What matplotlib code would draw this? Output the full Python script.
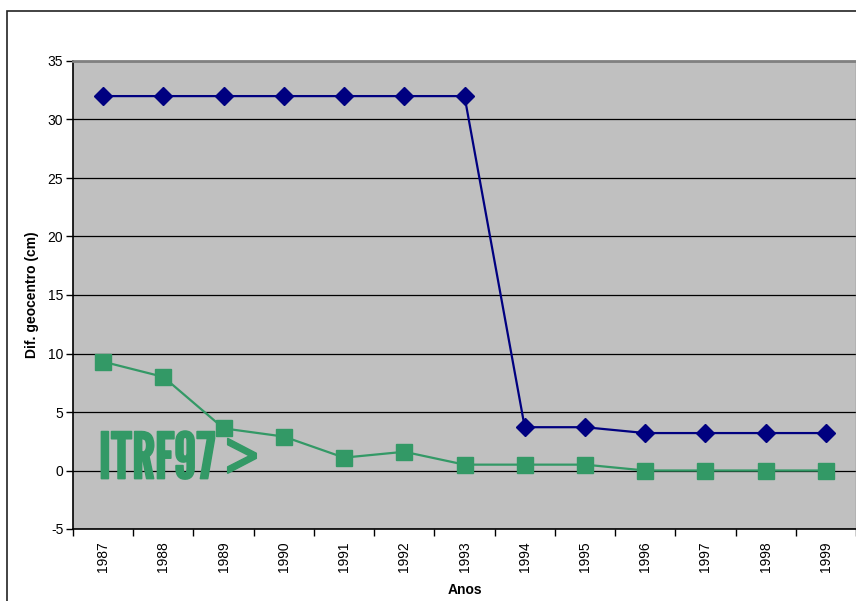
import numpy as np
import matplotlib.pyplot as plt
import matplotlib.patheffects as pe
from matplotlib.patches import Rectangle

anos = ['1987', '1988', '1989', '1990', '1991', '1992', '1993',
        '1994', '1995', '1996', '1997', '1998', '1999']
serie_azul = [32, 32, 32, 32, 32, 32, 32, 3.7, 3.7, 3.2, 3.2, 3.2, 3.2]
serie_verde = [9.3, 8.0, 3.6, 2.9, 1.1, 1.6, 0.5, 0.5, 0.5, 0, 0, 0, 0]
y_ticks = [-5, 0, 5, 10, 15, 20, 25, 30, 35]

plt.rcParams['font.family'] = ['Liberation Sans', 'DejaVu Sans']
plt.rcParams['axes.unicode_minus'] = False

W, H = 856, 601
fig = plt.figure(figsize=(W / 100, H / 100), dpi=100)

# moldura do grafico
fig.patches.append(Rectangle((7 / W, -0.1), 1.2, (H - 11) / H + 0.1,
                             transform=fig.transFigure, fill=False,
                             edgecolor='#222222', linewidth=1.2))

ax = fig.add_axes([73 / W, (H - 529) / H, 783 / W, 468 / H])
ax.set_facecolor('#c0c0c0')

x = np.arange(len(anos))
ax.plot(x, serie_azul, '-D', color='#000080', linewidth=1.6, markersize=9.5,
        zorder=3)
ax.plot(x, serie_verde, '-s', color='#339966', linewidth=1.6, markersize=11,
        zorder=3)

ax.set_xlim(-0.5, len(anos) - 0.5)
ax.set_ylim(-5, 35)
ax.set_yticks(y_ticks)
ax.yaxis.grid(True, color='black', linewidth=0.9)
ax.set_axisbelow(True)

ax.set_xticks(np.arange(-0.5, len(anos), 1))
ax.set_xticklabels([])
ax.set_xticks(x, minor=True)
ax.set_xticklabels(anos, minor=True, rotation=90, fontsize=10)
ax.tick_params(axis='x', which='minor', length=0, pad=9)
ax.tick_params(axis='x', which='major', length=5, width=1, direction='out')
ax.tick_params(axis='y', length=5, width=1, direction='out', labelsize=10, pad=2)

for s in ['left', 'bottom']:
    ax.spines[s].set_color('black')
    ax.spines[s].set_linewidth(1.2)
ax.spines['top'].set_color('#808080')
ax.spines['top'].set_linewidth(2)
ax.spines['right'].set_color('#808080')
ax.spines['right'].set_linewidth(1)

ax.set_ylabel('Dif. geocentro (cm)', fontsize=10, fontweight='bold', labelpad=6)
ax.set_xlabel('Anos', fontsize=10, fontweight='bold', labelpad=8)

ax.text(-0.07, 0.85, 'ITRF97 >', color='#339966', fontsize=46,
        va='center', ha='left',
        family=['League Gothic', 'Pathway Gothic One', 'Anton', 'Oswald',
                'DejaVu Sans'], zorder=2,
        path_effects=[pe.withStroke(linewidth=1.2, foreground='#339966')])

fig.savefig('out.png', dpi=100)
